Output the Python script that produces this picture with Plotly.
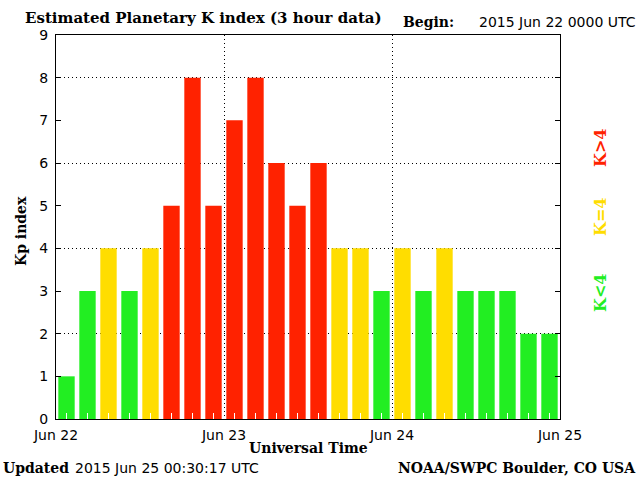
import plotly.graph_objects as go

# 3-hour interval centres (UT)
times = [
    "2015-06-22 01:30", "2015-06-22 04:30", "2015-06-22 07:30", "2015-06-22 10:30",
    "2015-06-22 13:30", "2015-06-22 16:30", "2015-06-22 19:30", "2015-06-22 22:30",
    "2015-06-23 01:30", "2015-06-23 04:30", "2015-06-23 07:30", "2015-06-23 10:30",
    "2015-06-23 13:30", "2015-06-23 16:30", "2015-06-23 19:30", "2015-06-23 22:30",
    "2015-06-24 01:30", "2015-06-24 04:30", "2015-06-24 07:30", "2015-06-24 10:30",
    "2015-06-24 13:30", "2015-06-24 16:30", "2015-06-24 19:30", "2015-06-24 22:30",
]
kp = [1, 3, 4, 3, 4, 5, 8, 5, 7, 8, 6, 5, 6, 4, 4, 3, 4, 3, 4, 3, 3, 3, 2, 2]

day_ticks = ["2015-06-22", "2015-06-23", "2015-06-24", "2015-06-25"]
day_labels = ["Jun 22", "Jun 23", "Jun 24", "Jun 25"]
y_ticks = [0, 1, 2, 3, 4, 5, 6, 7, 8, 9]
y_grid = [2, 4, 6, 8]

GREEN = "#22ee22"
YELLOW = "#ffdd00"
RED = "#ff2200"
colors = [GREEN if v < 4 else (YELLOW if v == 4 else RED) for v in kp]

SERIF = "DejaVu Serif"
SANS = "DejaVu Sans"

W, H = 640, 480
ML, MR, MT, MB = 56, 80, 35, 61
PW, PH = W - ML - MR, H - MT - MB


def px(x):
    return (x - ML) / PW


def py(y):
    return (H - MB - y) / PH


fig = go.Figure()
fig.add_trace(go.Bar(
    x=times, y=kp, marker=dict(color=colors, line=dict(width=0)),
    width=0.78 * 3 * 3600 * 1000, yaxis="y", showlegend=False, hoverinfo="x+y",
))
# empty helper trace so the grid-only overlay axis gets drawn
fig.add_trace(go.Scatter(x=[], y=[], yaxis="y2", showlegend=False, hoverinfo="skip"))

fig.update_layout(
    width=W, height=H,
    margin=dict(l=ML, r=MR, t=MT, b=MB),
    paper_bgcolor="white", plot_bgcolor="white",
    xaxis=dict(
        type="date",
        range=[day_ticks[0], day_ticks[-1]],
        tickmode="array", tickvals=day_ticks, ticktext=day_labels,
        ticks="", showgrid=True, gridcolor="black", griddash="1px,3px", gridwidth=1,
        showline=True, linecolor="black", linewidth=1, mirror=True,
        tickfont=dict(family=SANS, size=14, color="black"),
        ticklabelstandoff=3,
        minor=dict(tickmode="array", tickvals=times, ticks="inside", ticklen=6,
                   tickcolor="white", tickwidth=1, showgrid=False),
        zeroline=False,
    ),
    yaxis=dict(
        range=[0, 9], tickmode="array", tickvals=y_ticks,
        ticks="inside", ticklen=5, tickcolor="black", tickwidth=1,
        showline=True, linecolor="black", linewidth=1, mirror="ticks",
        showgrid=False, zeroline=False,
        tickfont=dict(family=SANS, size=14, color="black"),
        ticklabelstandoff=4,
    ),
    yaxis2=dict(
        overlaying="y", anchor="x", side="left",
        range=[0, 9], tickmode="array", tickvals=y_grid,
        showticklabels=False, ticks="",
        showgrid=True, gridcolor="black", griddash="1px,3px", gridwidth=1,
        showline=False, zeroline=False,
    ),
)

ann = [
    dict(text="<b>Estimated Planetary K index (3 hour data)</b>", x=px(23), y=py(18),
         xanchor="left", yanchor="middle", font=dict(family=SERIF, size=15)),
    dict(text="<b>Begin:</b>", x=px(401), y=py(22),
         xanchor="left", yanchor="middle", font=dict(family=SERIF, size=14)),
    dict(text="2015 Jun 22 0000 UTC", x=px(638), y=py(22),
         xanchor="right", yanchor="middle", font=dict(family=SANS, size=14)),
    dict(text="<b>Kp index</b>", x=px(21), y=py(231), textangle=-90,
         xanchor="center", yanchor="middle", font=dict(family=SERIF, size=14)),
    dict(text="<b>Universal Time</b>", x=px(308), y=py(448),
         xanchor="center", yanchor="middle", font=dict(family=SERIF, size=14)),
    dict(text="<b>Updated</b>", x=px(1), y=py(468),
         xanchor="left", yanchor="middle", font=dict(family=SERIF, size=14)),
    dict(text="2015 Jun 25 00:30:17 UTC", x=px(73), y=py(468),
         xanchor="left", yanchor="middle", font=dict(family=SANS, size=14)),
    dict(text="<b>NOAA/SWPC Boulder, CO USA</b>", x=px(638), y=py(468),
         xanchor="right", yanchor="middle", font=dict(family=SERIF, size=14)),
    dict(text="<b>K&gt;4</b>", x=px(600), y=py(148), textangle=-90,
         xanchor="center", yanchor="middle", font=dict(family=SERIF, size=16, color=RED)),
    dict(text="<b>K=4</b>", x=px(600), y=py(217), textangle=-90,
         xanchor="center", yanchor="middle", font=dict(family=SERIF, size=16, color=YELLOW)),
    dict(text="<b>K&lt;4</b>", x=px(600), y=py(293), textangle=-90,
         xanchor="center", yanchor="middle", font=dict(family=SERIF, size=16, color=GREEN)),
]
for a in ann:
    a.setdefault("xref", "paper")
    a.setdefault("yref", "paper")
    a["showarrow"] = False
    a["font"].setdefault("color", "black")
fig.update_layout(annotations=ann)

fig.write_html("out.html", config={"displayModeBar": False},
               post_script="document.body.style.margin='0';")
